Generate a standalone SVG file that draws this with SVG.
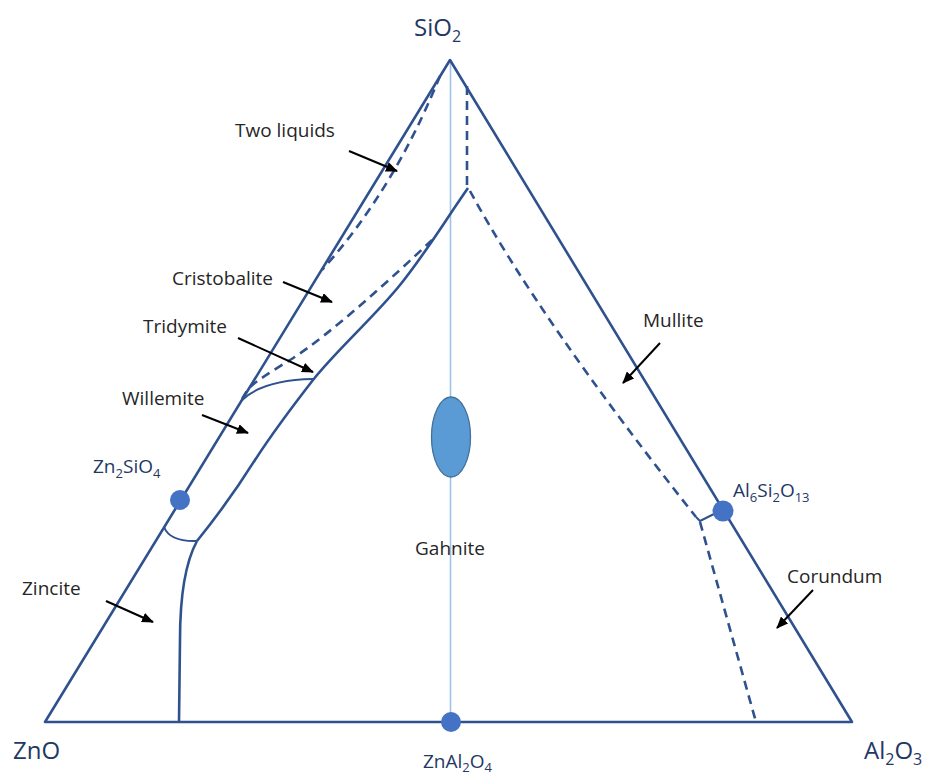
<svg xmlns="http://www.w3.org/2000/svg" width="931" height="776" viewBox="0 0 931 776">
<defs>
<style>
.edge{fill:none;stroke:#2f528f;stroke-width:2.6;stroke-linejoin:round;stroke-linecap:butt}
.dash{fill:none;stroke:#2f528f;stroke-width:2.6;stroke-dasharray:9 6}
.thin{fill:none;stroke:#2f528f;stroke-width:2}
.axis{fill:none;stroke:#9dc3e6;stroke-width:1.6}
.dot{fill:#4472c4}
.arrow{fill:none;stroke:#000;stroke-width:2;marker-end:url(#ah)}
.lbl{font-family:"Open Sans","Liberation Sans",sans-serif;font-size:19px;fill:#262626}
.fml{font-family:"Open Sans","Liberation Sans",sans-serif;font-size:19px;fill:#1f3864}
.big{font-family:"Open Sans","Liberation Sans",sans-serif;font-size:24px;fill:#1f3864}
</style>
<marker id="ah" viewBox="0 0 12 10" refX="11" refY="5" markerWidth="12" markerHeight="10" markerUnits="userSpaceOnUse" orient="auto">
<path d="M0,0 L12,5 L0,10 z" fill="#000"/>
</marker>
</defs>
<rect width="931" height="776" fill="#fff"/>

<g id="axis-line">
<line class="axis" x1="450.5" y1="60" x2="450.5" y2="722"/>
</g>

<g id="triangle">
<path class="edge" d="M450,60 L45,722 L852,722 Z"/>
</g>

<g id="boundaries">
<path class="dash" d="M440,76 C420,125 385,200 322,270"/>
<path class="dash" d="M467,86 L467,188"/>
<path class="edge" d="M468,188 C445.3,220.3 425.8,253 400,285 C374.2,317 336,350.8 313,380 C292,407 268,440 255,460 C238,487 218,515 197,541"/>
<path class="edge" d="M197,541 C185,563 180,595 180,640 L179,722"/>
<path class="thin" d="M164,527 Q170,542 197,541"/>
<path class="dash" d="M432,240 C395,275 330,335 290,360 S250,385 242,399"/>
<path class="thin" d="M241,401 Q262,380 313,379"/>
<path class="dash" d="M470,191 Q540,320 696,517"/>
<path class="thin" d="M696,517 L700,521 L714,514"/>
<path class="dash" d="M700,522 L756,722"/>
</g>

<g id="gahnite-field">
<ellipse cx="451" cy="437" rx="19.5" ry="40" fill="#5b9bd5" stroke="#41719c" stroke-width="1.3"/>
</g>

<g id="compound-points">
<circle class="dot" cx="180" cy="500" r="10"/>
<circle class="dot" cx="723" cy="511" r="10.5"/>
<circle class="dot" cx="451" cy="722" r="10"/>
</g>

<g id="connectors">
<line class="arrow" x1="349" y1="151" x2="397" y2="171"/>
<line class="arrow" x1="283" y1="282" x2="332" y2="302"/>
<line class="arrow" x1="238" y1="338" x2="313" y2="372"/>
<line class="arrow" x1="202" y1="415" x2="248" y2="433"/>
<line class="arrow" x1="106" y1="601" x2="153" y2="622"/>
<line class="arrow" x1="660" y1="343" x2="623" y2="383"/>
<line class="arrow" x1="813" y1="590" x2="777" y2="628"/>
</g>

<g id="label-sio2"><text class="big" x="414" y="36">SiO<tspan font-size="16" dy="6">2</tspan></text></g>
<g id="label-zno"><text class="big" x="13" y="759">ZnO</text></g>
<g id="label-al2o3"><text class="big" x="864" y="759">Al<tspan font-size="16" dy="6">2</tspan><tspan dy="-6">O</tspan><tspan font-size="16" dy="6">3</tspan></text></g>
<g id="label-two-liquids"><text class="lbl" x="235" y="137">Two liquids</text></g>
<g id="label-cristobalite"><text class="lbl" x="172" y="285">Cristobalite</text></g>
<g id="label-tridymite"><text class="lbl" x="143" y="333">Tridymite</text></g>
<g id="label-willemite"><text class="lbl" x="122" y="405">Willemite</text></g>
<g id="label-zincite"><text class="lbl" x="22" y="595">Zincite</text></g>
<g id="label-mullite"><text class="lbl" x="643" y="327">Mullite</text></g>
<g id="label-corundum"><text class="lbl" x="787" y="583">Corundum</text></g>
<g id="label-gahnite"><text class="lbl" x="450" y="555" text-anchor="middle">Gahnite</text></g>
<g id="label-zn2sio4"><text class="fml" x="93" y="473">Zn<tspan font-size="13" dy="5">2</tspan><tspan dy="-5">SiO</tspan><tspan font-size="13" dy="5">4</tspan></text></g>
<g id="label-al6si2o13"><text class="fml" x="733" y="497">Al<tspan font-size="13" dy="5">6</tspan><tspan dy="-5">Si</tspan><tspan font-size="13" dy="5">2</tspan><tspan dy="-5">O</tspan><tspan font-size="13" dy="5">13</tspan></text></g>
<g id="label-znal2o4"><text class="fml" x="423" y="768">ZnAl<tspan font-size="13" dy="4">2</tspan><tspan dy="-4">O</tspan><tspan font-size="13" dy="4">4</tspan></text></g>
</svg>
